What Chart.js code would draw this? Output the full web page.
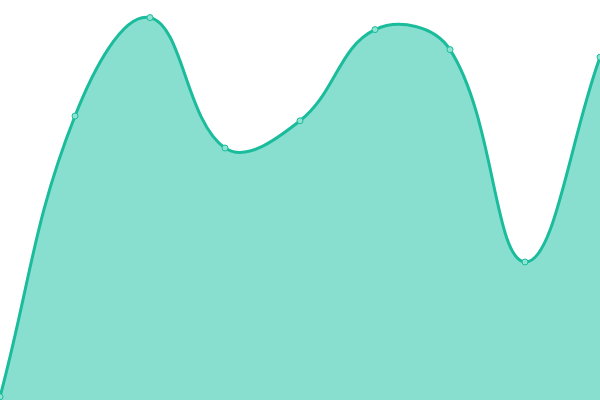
<!DOCTYPE html>
<html>
<head>
<meta charset="utf-8">
<style>
  html, body { margin: 0; padding: 0; background: #fff; }
  #wrap { width: 600px; height: 400px; }
</style>
<script src="https://cdn.jsdelivr.net/npm/chart.js@4/dist/chart.umd.min.js"></script>
</head>
<body>
<div id="wrap"><canvas id="areaChart"></canvas></div>
<script>
// chart data
const labels = ['1', '2', '3', '4', '5', '6', '7', '8', '9'];
const values = [0.8, 71, 95.6, 63, 69.8, 92.6, 87.6, 34.5, 85.7];

const ctx = document.getElementById('areaChart').getContext('2d');
new Chart(ctx, {
  type: 'line',
  data: {
    labels,
    datasets: [{
      data: values,
      fill: 'origin',
      backgroundColor: 'rgba(20, 192, 160, 0.5)',
      borderColor: '#1abc9c',
      borderWidth: 3,
      tension: 0.4,
      pointRadius: 3,
      pointBorderWidth: 1,
      pointBackgroundColor: '#8fe3d2',
      pointBorderColor: '#1abc9c'
    }]
  },
  options: {
    responsive: true,
    maintainAspectRatio: false,
    animation: false,
    layout: { padding: 0, autoPadding: false },
    plugins: {
      legend: { display: false },
      tooltip: { enabled: false }
    },
    scales: {
      x: { display: false },
      y: { display: false, min: 0, max: 100 }
    }
  }
});
</script>
</body>
</html>
